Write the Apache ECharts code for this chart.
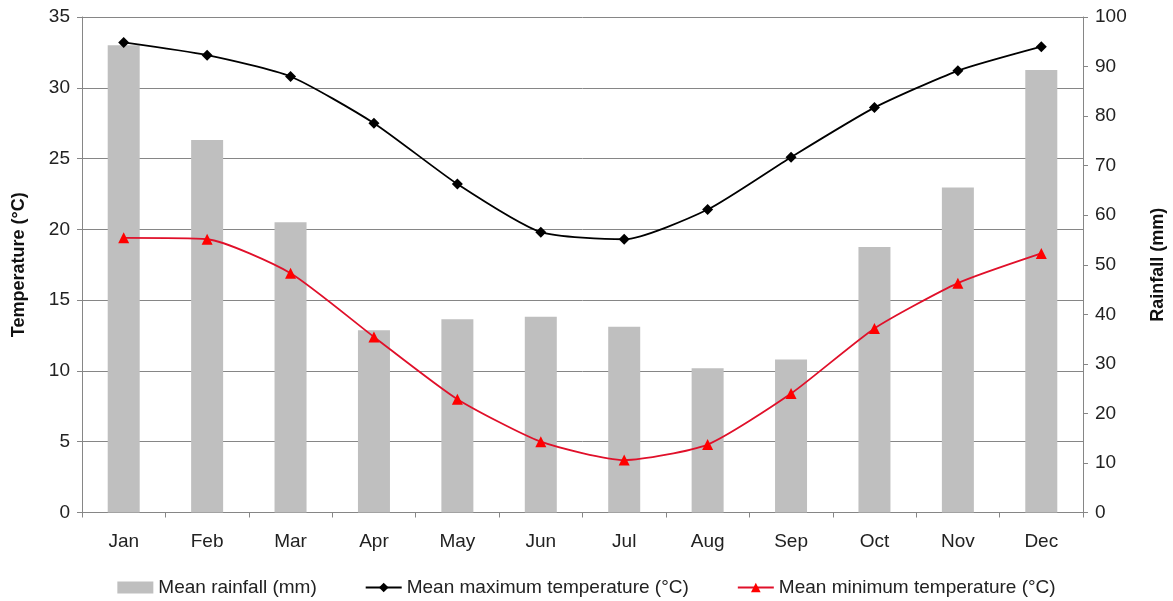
<!DOCTYPE html>
<html>
<head>
<meta charset="utf-8">
<script src="https://cdn.jsdelivr.net/npm/echarts@6/dist/echarts.min.js"></script>
<style>
  html, body { margin: 0; padding: 0; background: #fff; }
  #chart { width: 1173px; height: 601px; }
</style>
</head>
<body>
<div id="chart"></div>
<script>
var months = ['Jan', 'Feb', 'Mar', 'Apr', 'May', 'Jun', 'Jul', 'Aug', 'Sep', 'Oct', 'Nov', 'Dec'];
var rainfall = [94.3, 75.2, 58.6, 36.8, 39.0, 39.5, 37.5, 29.1, 30.9, 53.6, 65.6, 89.3];
var maxTemp = [33.2, 32.3, 30.8, 27.5, 23.2, 19.8, 19.3, 21.4, 25.1, 28.6, 31.2, 32.9];
var minTemp = [19.4, 19.3, 16.9, 12.4, 8.0, 5.0, 3.7, 4.8, 8.4, 13.0, 16.2, 18.3];

var font = 'Liberation Sans, Arial, sans-serif';
var axisGray = '#868686';

var myChart = echarts.init(document.getElementById('chart'));
myChart.setOption({
  animation: false,
  textStyle: { fontFamily: font },
  grid: { left: 82, right: 90, top: 17, bottom: 88.5, containLabel: false, outerBoundsMode: 'none' },
  legend: {
    top: 573,
    left: 'center',
    itemWidth: 36,
    itemHeight: 12,
    itemGap: 48,
    textStyle: { fontSize: 19, color: '#222', fontFamily: font },
    data: [
      { name: 'Mean rainfall (mm)', icon: 'rect' },
      { name: 'Mean maximum temperature (°C)' },
      { name: 'Mean minimum temperature (°C)' }
    ]
  },
  xAxis: {
    type: 'category',
    data: months,
    boundaryGap: true,
    axisLine: { lineStyle: { color: axisGray } },
    axisTick: { show: true, length: 5, lineStyle: { color: axisGray } },
    axisLabel: { fontSize: 19, color: '#222', margin: 20 }
  },
  yAxis: [
    {
      type: 'value',
      min: 0, max: 35, interval: 5,
      name: 'Temperature (°C)',
      nameLocation: 'middle',
      nameGap: 54,
      nameTextStyle: { fontSize: 18, fontWeight: 'bold', color: '#111' },
      axisLine: { show: true, lineStyle: { color: axisGray } },
      axisTick: { show: true, length: 5, lineStyle: { color: axisGray } },
      axisLabel: { fontSize: 19, color: '#222', margin: 12 },
      splitLine: { lineStyle: { color: axisGray, width: 1 } }
    },
    {
      type: 'value',
      min: 0, max: 100, interval: 10,
      name: 'Rainfall (mm)',
      nameLocation: 'middle',
      nameGap: 66,
      nameRotate: 90,
      nameTextStyle: { fontSize: 18, fontWeight: 'bold', color: '#111' },
      axisLine: { show: true, lineStyle: { color: axisGray } },
      axisTick: { show: true, length: 5, lineStyle: { color: axisGray } },
      axisLabel: { fontSize: 19, color: '#222', margin: 12 },
      splitLine: { show: false }
    }
  ],
  series: [
    {
      name: 'Mean rainfall (mm)',
      type: 'bar',
      yAxisIndex: 1,
      barWidth: 32,
      itemStyle: { color: '#bfbfbf' },
      data: rainfall
    },
    {
      name: 'Mean maximum temperature (°C)',
      type: 'line',
      yAxisIndex: 0,
      smooth: 0.2,
      symbol: 'diamond',
      symbolSize: 11,
      lineStyle: { color: '#000', width: 1.8 },
      itemStyle: { color: '#000' },
      data: maxTemp
    },
    {
      name: 'Mean minimum temperature (°C)',
      type: 'line',
      yAxisIndex: 0,
      smooth: 0.2,
      symbol: 'triangle',
      symbolSize: 11,
      lineStyle: { color: '#e0102a', width: 1.8 },
      itemStyle: { color: '#ff0000' },
      data: minTemp
    }
  ]
});
</script>
</body>
</html>
